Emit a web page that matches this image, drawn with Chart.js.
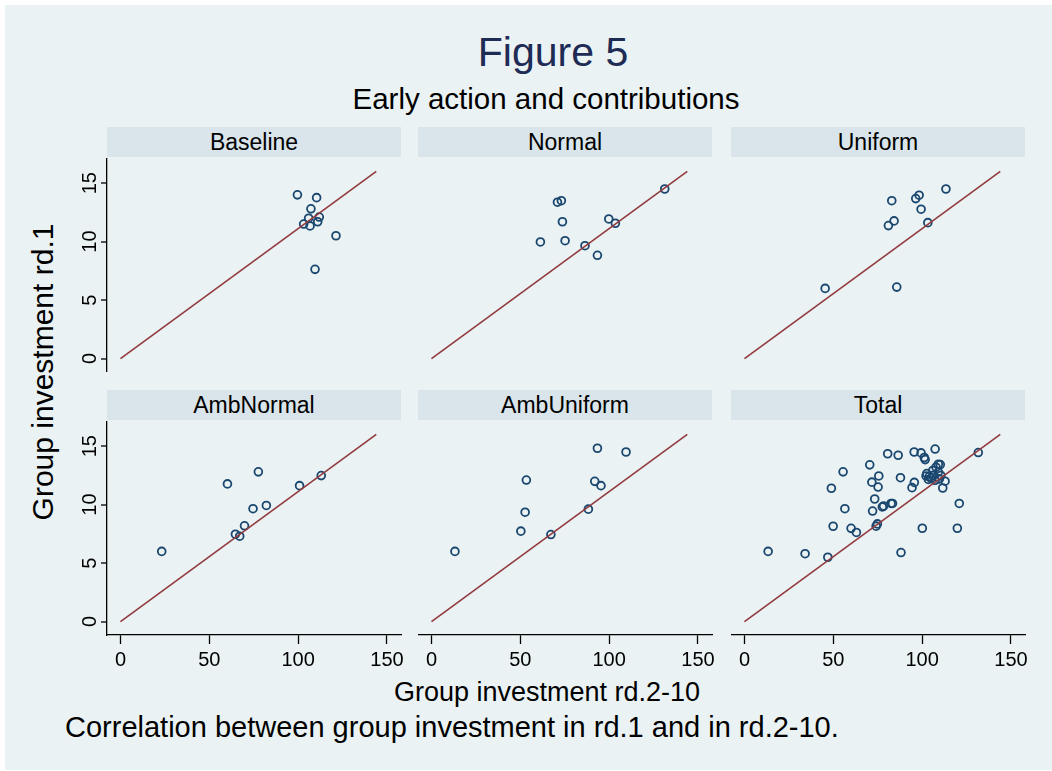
<!DOCTYPE html>
<html>
<head>
<meta charset="utf-8">
<title>Figure 5</title>
<script src="https://cdn.jsdelivr.net/npm/chart.js@4.4.1/dist/chart.umd.min.js"></script>
<style>
  html, body { margin: 0; padding: 0; background: #ffffff; }
  body { width: 1052px; height: 771px; position: relative; overflow: hidden;
         font-family: "Liberation Sans", Arial, sans-serif; }
  #page { position: absolute; left: 5px; top: 5px; width: 1047px; height: 765px; background: #EAF2F3; }
  .txt { position: absolute; white-space: nowrap; line-height: 1; transform: translate(-50%, -50%); }
  .strip { position: absolute; background: #D9E5EA; text-align: center; color: #000;
           font-size: 23px; }
  canvas { position: absolute; }
</style>
</head>
<body>
<div id="page"></div>
<div class="txt" style="left:553px; top:52px; font-size:41px; color:#1E2B55;">Figure 5</div>
<div class="txt" style="left:546px; top:99px; font-size:29.5px; color:#000;">Early action and contributions</div>
<div class="txt" style="left:547px; top:692px; font-size:27px; color:#000;">Group investment rd.2-10</div>
<div class="txt" style="left:43px; top:372px; font-size:30px; color:#000; transform: translate(-50%, -50%) rotate(-90deg);">Group investment rd.1</div>
<div class="txt" style="left:65px; top:727px; font-size:29px; color:#000; transform: translate(0, -50%);">Correlation between group investment in rd.1 and in rd.2-10.</div>
<div id="panels"></div>

<script>
// Panel names, in drawing order (row by row)
const panelNames = ["Baseline", "Normal", "Uniform", "AmbNormal", "AmbUniform", "Total"];

// Group investment in rounds 2-10 (x) and in round 1 (y), per treatment
const baselineX = [99.6, 110.4, 107.2, 111.9, 105.9, 103.1, 106.7, 111.0, 121.3, 109.5];
const baselineY = [14.0, 13.76, 12.8, 12.1, 12.0, 11.5, 11.34, 11.7, 10.5, 7.63];

const normalX = [131.3, 70.9, 73.1, 73.7, 99.8, 103.5, 61.3, 75.2, 86.4, 93.4];
const normalY = [14.5, 13.37, 13.5, 11.7, 11.94, 11.57, 9.97, 10.08, 9.65, 8.83];

const uniformX = [113.4, 98.3, 96.4, 82.9, 99.4, 84.2, 81.0, 103.2, 45.4, 85.7];
const uniformY = [14.5, 13.97, 13.68, 13.5, 12.77, 11.77, 11.37, 11.62, 6.0, 6.11];

const ambNormalX = [60.2, 77.6, 100.8, 113.0, 74.6, 82.1, 69.8, 64.7, 67.1, 23.2];
const ambNormalY = [11.77, 12.8, 11.62, 12.48, 9.65, 9.93, 8.19, 7.47, 7.3, 6.0];

const ambUniformX = [93.4, 109.5, 53.4, 91.9, 95.4, 88.3, 52.7, 50.3, 67.2, 13.2];
const ambUniformY = [14.82, 14.5, 12.1, 11.99, 11.62, 9.61, 9.35, 7.73, 7.44, 6.0];

const totalX = [13.3, 34.1, 46.9, 48.9, 55.5, 56.5, 49.9, 60.0, 63.0, 70.5,
                71.7, 75.6, 75.2, 73.3, 72.1, 74.1, 74.8, 80.6, 86.5, 87.8,
                95.5, 99.4, 107.3, 101.2, 101.7, 131.6, 95.6, 94.3, 77.6, 78.3,
                82.5, 83.3, 120.9, 100.1, 119.8, 88.1, 109.1, 110.2, 107.8, 106.0,
                102.6, 102.2, 104.0, 106.3, 109.1, 103.5, 107.3, 112.9, 111.6, 109.7,
                105.0, 110.5];
const totalY = [6.0, 5.8, 5.5, 11.4, 12.8, 9.65, 8.15, 7.97, 7.62, 13.4,
                11.92, 12.45, 11.5, 10.48, 9.45, 8.16, 8.35, 14.35, 14.22, 12.3,
                14.5, 14.42, 14.75, 14.03, 13.85, 14.45, 11.9, 11.45, 9.8, 9.88,
                10.1, 10.1, 10.1, 7.98, 7.98, 5.9, 13.45, 13.42, 13.2, 12.92,
                12.65, 12.45, 12.4, 12.5, 12.78, 12.15, 12.08, 12.0, 11.42, 12.2,
                12.25, 12.5];

const seriesX = [baselineX, normalX, uniformX, ambNormalX, ambUniformX, totalX];
const seriesY = [baselineY, normalY, uniformY, ambNormalY, ambUniformY, totalY];

// Reference line: round-1 investment equal to the per-round average of rounds 2-10
const refLineX = [0, 144];
const refLineY = [0, 16];

// Axis ticks and ranges
const xTicks = [0, 50, 100, 150];
const yTicks = [0, 5, 10, 15];
const xRange = [-7.6, 157.9];
const yRange = [-1.15, 17.15];

// Grid geometry of the six panels
const colLeft = [107, 418, 731];
const stripTop = [127, 390];
const plotTop = [158, 421];
const plotW = 294, plotH = 214, stripH = 30;

const MARKER = '#1A476F';
const LINE = '#923A3E';
const FONT = '"Liberation Sans", Arial, sans-serif';

// Keep tick labels from shrinking the plot area
function noPad(s) {
  s.paddingTop = 0; s.paddingBottom = 0; s.paddingLeft = 0; s.paddingRight = 0;
}

const holder = document.getElementById('panels');

panelNames.forEach((name, i) => {
  const col = i % 3, row = Math.floor(i / 3);
  const firstCol = col === 0, lastRow = row === 1;

  const strip = document.createElement('div');
  strip.className = 'strip';
  strip.style.left = colLeft[col] + 'px';
  strip.style.top = stripTop[row] + 'px';
  strip.style.width = plotW + 'px';
  strip.style.height = stripH + 'px';
  strip.style.lineHeight = stripH + 'px';
  strip.textContent = name;
  holder.appendChild(strip);

  const padL = firstCol ? 47 : 0;
  const padB = lastRow ? 50 : 0;
  const padR = 8;
  const cv = document.createElement('canvas');
  cv.width = plotW + padL + padR;
  cv.height = plotH + padB;
  cv.style.left = (colLeft[col] - padL) + 'px';
  cv.style.top = plotTop[row] + 'px';
  cv.style.width = cv.width + 'px';
  cv.style.height = cv.height + 'px';
  holder.appendChild(cv);

  const points = seriesX[i].map((x, k) => ({ x: x, y: seriesY[i][k] }));
  const ref = refLineX.map((x, k) => ({ x: x, y: refLineY[k] }));

  new Chart(cv.getContext('2d'), {
    type: 'scatter',
    data: {
      datasets: [
        {
          type: 'scatter',
          data: points,
          pointStyle: 'circle',
          pointRadius: 3.9,
          pointHoverRadius: 3.9,
          pointBorderWidth: 1.8,
          pointBorderColor: MARKER,
          pointBackgroundColor: 'rgba(0,0,0,0)',
          order: 2
        },
        {
          type: 'line',
          data: ref,
          borderColor: LINE,
          borderWidth: 1.6,
          pointRadius: 0,
          fill: false,
          tension: 0,
          order: 1
        }
      ]
    },
    options: {
      responsive: false,
      animation: false,
      devicePixelRatio: 1,
      events: [],
      layout: { autoPadding: false, padding: { left: 0, top: 0, right: padR, bottom: 0 } },
      plugins: { legend: { display: false }, tooltip: { enabled: false }, title: { display: false } },
      scales: {
        x: {
          type: 'linear',
          min: xRange[0],
          max: xRange[1],
          display: lastRow,
          afterBuildTicks: s => { s.ticks = xTicks.map(v => ({ value: v })); },
          afterFit: s => { s.height = padB; noPad(s); },
          grid: { drawOnChartArea: false, drawTicks: true, tickLength: 9, tickColor: '#000', tickWidth: 1.3 },
          border: { display: true, color: '#000', width: 1.3 },
          ticks: { color: '#000', font: { family: FONT, size: 20 }, padding: 4, maxRotation: 0, minRotation: 0 }
        },
        y: {
          type: 'linear',
          position: 'left',
          min: yRange[0],
          max: yRange[1],
          afterBuildTicks: s => { s.ticks = yTicks.map(v => ({ value: v })); },
          afterFit: s => { s.width = padL; noPad(s); },
          grid: { drawOnChartArea: true, color: '#EAF2F3', lineWidth: 2,
                  drawTicks: firstCol, tickLength: 6, tickColor: '#000', tickWidth: 1.3 },
          border: { display: firstCol, color: '#000', width: 1.3 },
          ticks: { display: firstCol, color: '#000', font: { family: FONT, size: 20 },
                   minRotation: 90, maxRotation: 90, crossAlign: 'center', padding: -1 }
        }
      }
    }
  });
});
</script>
</body>
</html>
